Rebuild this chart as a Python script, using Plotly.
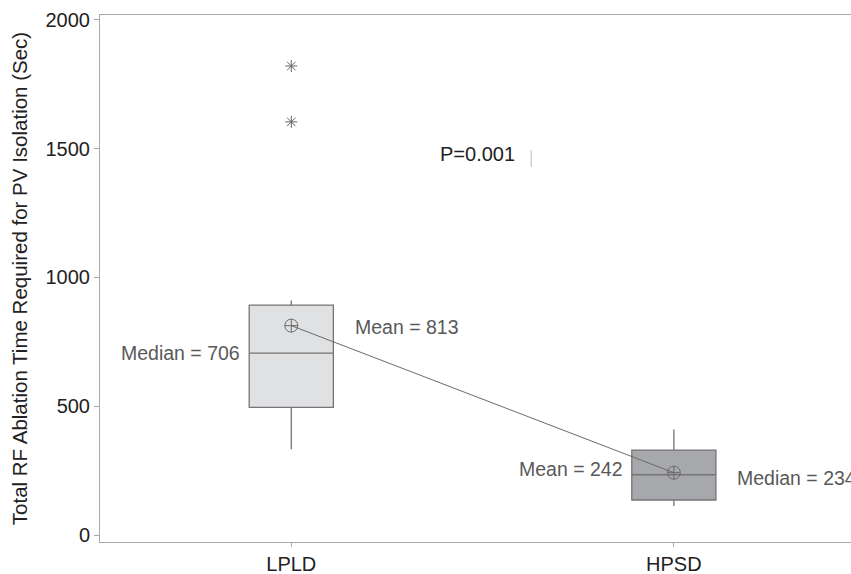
import plotly.graph_objects as go

groups = ["LPLD", "HPSD"]
q1 = [496, 136]
medians = [706, 234]
q3 = [893, 330]
lower_whisker = [333, 113]
upper_whisker = [911, 410]
means = [813, 242]
outlier_groups = ["LPLD", "LPLD"]
outlier_values = [1821, 1604]
box_fills = ["#e0e1e3", "#a7a8ac"]
p_text = "P=0.001"

FONT = "Liberation Sans, Arial, sans-serif"

fig = go.Figure()
for i, g in enumerate(groups):
    fig.add_trace(go.Box(
        x=[g], q1=[q1[i]], median=[medians[i]], q3=[q3[i]],
        lowerfence=[lower_whisker[i]], upperfence=[upper_whisker[i]],
        fillcolor=box_fills[i], line=dict(color="#747474", width=1.3),
        width=0.22, whiskerwidth=0, boxpoints=False, showlegend=False,
        hoverinfo="skip",
    ))

fig.add_trace(go.Scatter(
    x=groups, y=means, mode="lines+markers",
    line=dict(color="#6a6a6a", width=1),
    marker=dict(symbol="circle-cross-open", size=13, color="#6a6a6a", line=dict(width=1)),
    showlegend=False, hoverinfo="skip",
))
fig.add_trace(go.Scatter(
    x=outlier_groups, y=outlier_values, mode="markers",
    marker=dict(symbol="asterisk-open", size=10, color="#666666", line=dict(width=1, color="#666666")),
    showlegend=False, hoverinfo="skip",
))

ann_font = dict(family=FONT, size=19.5, color="#595959")
fig.add_annotation(x=groups[0], y=medians[0], text=f"Median = {medians[0]}", xshift=-49,
                   xanchor="right", showarrow=False, font=ann_font)
fig.add_annotation(x=groups[0], y=means[0], text=f"Mean = {means[0]}", xshift=62,
                   xanchor="left", yshift=-1, showarrow=False, font=ann_font)
fig.add_annotation(x=groups[1], y=means[1], text=f"Mean = {means[1]}", xshift=-49,
                   xanchor="right", yshift=4, showarrow=False, font=ann_font)
fig.add_annotation(x=groups[1], y=medians[1], text=f"Median = {medians[1]}", xshift=61,
                   xanchor="left", yshift=-3, showarrow=False, font=ann_font)
fig.add_annotation(x=0.487, y=1481, text=p_text, xref="x", yref="y", showarrow=False,
                   font=dict(family=FONT, size=20, color="#222222"))
fig.add_shape(type="line", x0=0.627, x1=0.627, y0=1429, y1=1495, xref="x", yref="y",
              line=dict(color="#bbbbbb", width=1))

fig.update_layout(
    width=851, height=574,
    margin=dict(l=100, r=0, t=15, b=32),
    plot_bgcolor="white", paper_bgcolor="white",
    font=dict(family=FONT, size=20, color="#222222"),
)
fig.update_xaxes(
    range=[-0.5, 1.463], showline=True, linecolor="#a8a8a8", linewidth=1, mirror=True,
    ticks="outside", ticklen=4, tickcolor="#a8a8a8", showgrid=False,
    tickfont=dict(family=FONT, size=20, color="#222222"), automargin=False,
)
fig.update_yaxes(
    range=[-27, 2019], showline=True, linecolor="#a8a8a8", linewidth=1,
    ticks="outside", ticklen=5, tickcolor="#a8a8a8", showgrid=False, zeroline=False,
    tickvals=[0, 500, 1000, 1500, 2000], tickfont=dict(family=FONT, size=20, color="#222222"),
    title=dict(text="Total RF Ablation Time Required for PV Isolation (Sec)",
               font=dict(family=FONT, size=20.5, color="#222222"), standoff=12),
    automargin=False,
)
fig.write_html("out.html", config={"displayModeBar": False},
               post_script="document.body.style.margin='0';")
